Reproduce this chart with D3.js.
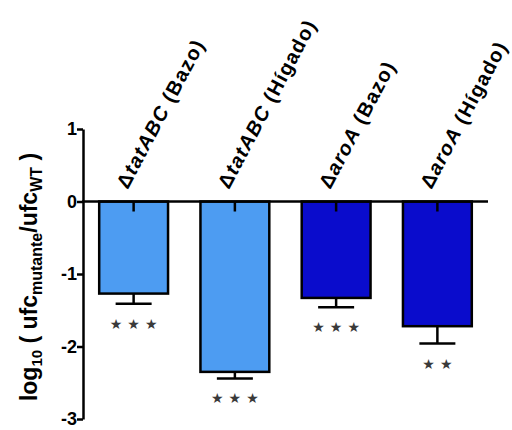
<!DOCTYPE html>
<html>
<head>
<meta charset="utf-8">
<script src="https://cdn.jsdelivr.net/npm/d3@7"></script>
<style>
  body { margin: 0; background: #fff; }
  svg { font-family: "Liberation Sans", Arial, sans-serif; }
</style>
</head>
<body>
<div id="chart"></div>
<script>
// data
const strains = ['tatABC', 'tatABC', 'aroA', 'aroA'];
const organs = ['(Bazo)', '(Hígado)', '(Bazo)', '(Hígado)'];
const values = [-1.27, -2.35, -1.33, -1.72];
const errors = [0.14, 0.09, 0.13, 0.24];
const stars = ['★★★', '★★★', '★★★', '★★'];
const yTicks = [1, 0, -1, -2, -3];
const barColors = ['#4d9cf2', '#4d9cf2', '#0a0ccc', '#0a0ccc'];

const width = 512, height = 430;
const svg = d3.select('#chart').append('svg')
  .attr('width', width).attr('height', height);

const x = d3.scaleBand()
  .domain(d3.range(values.length))
  .range([83, 488])
  .paddingInner(0.32)
  .paddingOuter(0.16);

const y = d3.scaleLinear().domain([-3, 1]).range([419, 129]);

// bars
svg.selectAll('rect.bar')
  .data(values)
  .enter().append('rect')
  .attr('class', 'bar')
  .attr('x', (d, i) => x(i))
  .attr('y', y(0))
  .attr('width', x.bandwidth())
  .attr('height', d => y(d) - y(0))
  .attr('fill', (d, i) => barColors[i])
  .attr('stroke', '#000')
  .attr('stroke-width', 2.5);

// error bars (downward only)
const eb = svg.selectAll('g.err')
  .data(values)
  .enter().append('g')
  .attr('class', 'err')
  .attr('transform', (d, i) => `translate(${x(i) + x.bandwidth() / 2},0)`);

eb.append('line')
  .attr('y1', d => y(d))
  .attr('y2', (d, i) => y(d - errors[i]))
  .attr('stroke', '#000').attr('stroke-width', 2.5);
eb.append('line')
  .attr('x1', -18).attr('x2', 18)
  .attr('y1', (d, i) => y(d - errors[i]))
  .attr('y2', (d, i) => y(d - errors[i]))
  .attr('stroke', '#000').attr('stroke-width', 2.5);

// significance stars
eb.append('text')
  .attr('y', (d, i) => y(d - errors[i]) + 25)
  .attr('text-anchor', 'middle')
  .attr('font-family', '"DejaVu Sans", sans-serif')
  .attr('font-size', 14)
  .attr('letter-spacing', 5)
  .attr('dx', 2.5)
  .attr('fill', '#3a3a3a')
  .text((d, i) => stars[i]);

// x axis line at zero with ticks at bar centres
svg.append('line')
  .attr('x1', 82).attr('x2', 488)
  .attr('y1', y(0)).attr('y2', y(0))
  .attr('stroke', '#000').attr('stroke-width', 2.5);
svg.selectAll('line.xtick')
  .data(values)
  .enter().append('line')
  .attr('class', 'xtick')
  .attr('x1', (d, i) => x(i) + x.bandwidth() / 2)
  .attr('x2', (d, i) => x(i) + x.bandwidth() / 2)
  .attr('y1', y(0)).attr('y2', y(0) + 10)
  .attr('stroke', '#000').attr('stroke-width', 2.5);

// y axis
const yAxis = svg.append('g')
  .attr('transform', 'translate(83,0)')
  .call(d3.axisLeft(y).tickValues(yTicks).tickSize(6).tickSizeOuter(0).tickFormat(d => String(d)));
yAxis.select('.domain').attr('stroke-width', 2.5);
yAxis.selectAll('.tick line').attr('stroke-width', 2.5);
yAxis.selectAll('.tick text')
  .attr('font-size', 18)
  .attr('font-weight', 'bold')
  .attr('font-family', '"Liberation Sans", Arial, sans-serif')
  .attr('fill', '#000')
  .attr('x', -6);

// y axis title
const yt = svg.append('text')
  .attr('transform', 'translate(37,277) rotate(-90)')
  .attr('text-anchor', 'middle')
  .attr('font-size', 23)
  .attr('font-weight', 'bold');
yt.append('tspan').text('log');
yt.append('tspan').attr('font-size', 15).attr('dy', 5).text('10');
yt.append('tspan').attr('dy', -5).text(' ( ufc');
yt.append('tspan').attr('font-size', 16).attr('dy', 5).text('mutante');
yt.append('tspan').attr('dy', -5).text('/ufc');
yt.append('tspan').attr('font-size', 16).attr('dy', 5).text('WT');
yt.append('tspan').attr('dy', -5).text(' )');

// rotated category labels
const lab = svg.selectAll('text.cat')
  .data(values)
  .enter().append('text')
  .attr('class', 'cat')
  .attr('transform', (d, i) => `translate(${x(i) + x.bandwidth() / 2 - 6},190) rotate(-62)`)
  .attr('font-size', 20)
  .attr('letter-spacing', 1.2)
  .attr('font-weight', 'bold');
lab.append('tspan').text('Δ');
lab.append('tspan').attr('font-style', 'italic').text((d, i) => strains[i]);
lab.append('tspan').text((d, i) => ' ' + organs[i]);
</script>
</body>
</html>
